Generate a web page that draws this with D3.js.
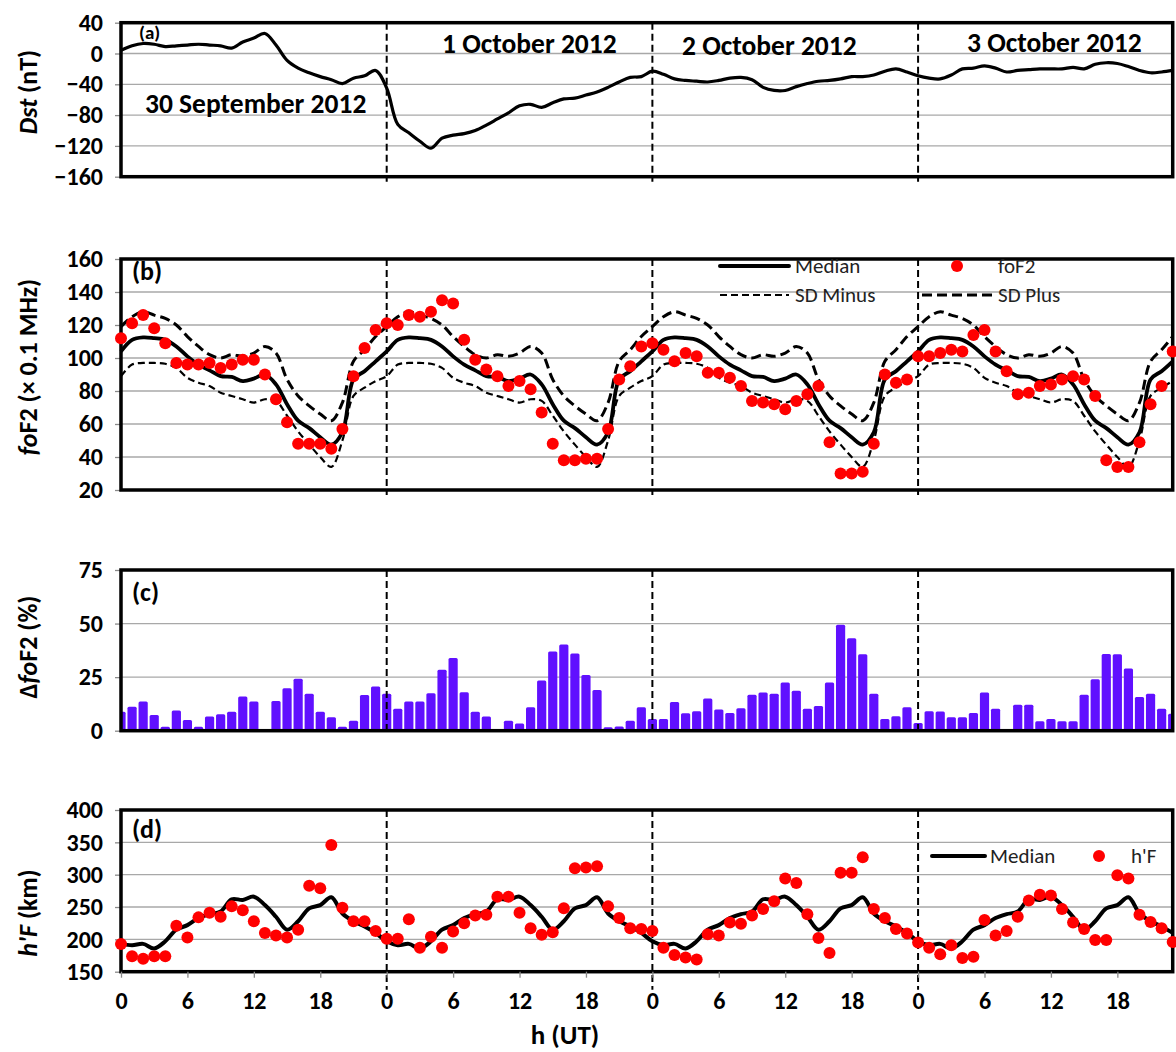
<!DOCTYPE html>
<html>
<head>
<meta charset="utf-8">
<script src="https://cdn.jsdelivr.net/npm/d3@7"></script>
<style>
  body { margin: 0; background: #fff; }
  svg text { font-family: Calibri, Carlito, Lato, sans-serif; }
</style>
</head>
<body>
<svg id="chart" width="1176" height="1052"></svg>
<script>
// ---- data (hourly, 30 Sep - 3 Oct 2012) ----
const dayLabels = ["30 September 2012", "1 October 2012", "2 October 2012", "3 October 2012"];
const hourTicks = [0, 6, 12, 18, 24, 30, 36, 42, 48, 54, 60, 66, 72, 78, 84, 90];
const dayBreaks = [24, 48, 72];

const dst = [
  4, 10, 13, 12, 9, 10, 11, 12, 11, 10, 7, 15, 20, 26, 11, -9, -19, -25, -30, -34, -39, -32, -29, -22,
  -45, -92, -103, -114, -123, -110, -106, -104, -100, -93, -85, -77, -68, -66, -70, -64, -59, -58, -54, -50, -44, -37, -31, -30,
  -23, -27, -33, -35, -36, -37, -35, -32, -31, -34, -44, -48, -48, -43, -39, -36, -35, -33, -30, -30, -28, -23, -20, -24,
  -29, -32, -33, -28, -20, -19, -16, -19, -24, -22, -21, -20, -20, -20, -18, -20, -14, -12, -13, -17, -22, -25, -24, -22
];

const foF2Median = [
  104, 111, 112.5, 112, 111, 107, 101, 96, 92.5, 89, 88.5, 86, 87.5, 90, 84, 72, 62, 57.5, 52, 47.5, 55, 87, 92, 98,
  104, 111, 112.5, 112, 111, 107, 101, 96, 92.5, 89, 88.5, 86, 87.5, 90, 84, 72, 62, 57.5, 52, 47.5, 55, 87, 92, 98,
  104, 111, 112.5, 112, 111, 107, 101, 96, 92.5, 89, 88.5, 86, 87.5, 90, 84, 72, 62, 57.5, 52, 47.5, 55, 87, 92, 98,
  104, 111, 112.5, 112, 111, 107, 101, 96, 92.5, 89, 88.5, 86, 87.5, 90, 84, 72, 62, 57.5, 52, 47.5, 55, 87, 92, 98
];
const foF2SDPlus = [
  119, 125, 128, 126, 124, 120, 113, 107, 102, 100, 102, 101, 103, 107, 103, 87, 77, 71, 66, 62, 73, 98, 105, 113,
  119, 125, 128, 126, 124, 120, 113, 107, 102, 100, 102, 101, 103, 107, 103, 87, 77, 71, 66, 62, 73, 98, 105, 113,
  119, 125, 128, 126, 124, 120, 113, 107, 102, 100, 102, 101, 103, 107, 103, 87, 77, 71, 66, 62, 73, 98, 105, 113,
  119, 125, 128, 126, 124, 120, 113, 107, 102, 100, 102, 101, 103, 107, 103, 87, 77, 71, 66, 62, 73, 98, 105, 113
];
const foF2SDMinus = [
  89, 96, 97, 97, 96.5, 94, 88, 85, 83, 79, 77, 75, 73, 75, 74, 65, 55.5, 47.5, 40, 34, 50, 77, 82, 86,
  89, 96, 97, 97, 96.5, 94, 88, 85, 83, 79, 77, 75, 73, 75, 74, 65, 55.5, 47.5, 40, 34, 50, 77, 82, 86,
  89, 96, 97, 97, 96.5, 94, 88, 85, 83, 79, 77, 75, 73, 75, 74, 65, 55.5, 47.5, 40, 34, 50, 77, 82, 86,
  89, 96, 97, 97, 96.5, 94, 88, 85, 83, 79, 77, 75, 73, 75, 74, 65, 55.5, 47.5, 40, 34, 50, 77, 82, 86
];
const foF2Obs = [
  112, 121, 126, 118, 109, 97, 96, 96, 97, 94, 96, 99, 99, 90, 75, 61, 48, 48, 48, 45, 57, 89, 106, 117,
  121, 120, 126, 125, 128, 135, 133, 111, 99, 93, 89, 83, 86, 81, 67, 48, 38, 38, 39, 39, 57, 87, 95, 107,
  109, 105, 98, 103, 101, 91, 91, 88, 83, 74, 73, 72, 69, 74, 78, 83, 49, 30, 30, 31, 48, 90, 85, 87,
  101, 101, 103, 105, 104, 114, 117, 104, 92, 78, 79, 83, 84, 87, 89, 87, 77, 38, 34, 34, 49, 72, 83, 104
];

const dFoF2 = [
  8.9, 11.2, 13.6, 7.3, 1.9, 9.4, 5, 1.9, 6.6, 7.7, 8.9, 16, 13.6, 0, 13.9, 19.8, 24.2, 17.2, 8.9, 6.3, 1.9, 4.7, 16.7, 20.6,
  17.2, 10.2, 13.6, 13.6, 17.5, 28.4, 33.9, 18, 8.9, 6.6, 0, 4.7, 3.4, 10.9, 23.4, 37, 40.2, 36, 26, 19, 1.6, 2, 4.7, 11,
  5.5, 5.5, 13.4, 8.2, 9.1, 15, 9.9, 8.3, 10.5, 16.8, 17.8, 17.3, 22.5, 18.6, 10.2, 11.5, 22.5, 49.5, 43.2, 35.7, 17.3, 5.5, 6.8, 11,
  3.6, 9.1, 9, 6.3, 6.3, 8.3, 17.8, 10.2, 0, 12.1, 12.1, 4.4, 5.5, 4.4, 4.4, 16.8, 24, 35.8, 35.7, 29, 15.7, 17.3, 10.2, 7.9
];

const hpFMedian = [
  193, 191, 193, 186, 197, 215, 222, 233, 239, 243, 262, 261, 266, 253, 235, 215, 228, 248, 253, 265, 240, 228, 220, 210,
  197, 191, 193, 186, 197, 215, 222, 233, 239, 243, 262, 261, 266, 253, 235, 215, 228, 248, 253, 265, 240, 228, 220, 210,
  197, 191, 193, 186, 197, 215, 222, 233, 239, 243, 262, 261, 266, 253, 235, 215, 228, 248, 253, 265, 240, 228, 220, 210,
  197, 191, 193, 186, 197, 215, 222, 233, 239, 243, 262, 261, 266, 253, 235, 215, 228, 248, 253, 265, 240, 228, 220, 210
];
const hpFObs = [
  193, 174, 170, 174, 174, 221, 203, 234, 241, 235, 251, 245, 228, 210, 206, 203, 215, 283, 279, 346, 249, 228, 228, 213,
  201, 201, 231, 187, 204, 187, 212, 225, 237, 238, 266, 266, 241, 217, 207, 211, 248, 310, 311, 313, 251, 233, 217, 216,
  213, 187, 176, 172, 169, 208, 206, 226, 224, 237, 247, 259, 294, 287, 239, 202, 179, 303, 303, 327, 247, 233, 216, 209,
  195, 187, 177, 191, 171, 173, 230, 206, 213, 235, 260, 269, 268, 247, 226, 216, 199, 199, 299, 294, 238, 227, 217, 196
];

const ticksA = [40, 0, -40, -80, -120, -160];
const ticksB = [160, 140, 120, 100, 80, 60, 40, 20];
const ticksC = [75, 50, 25, 0];
const ticksD = [400, 350, 300, 250, 200, 150];

// ---- layout ----
const svg = d3.select("#chart");
const x = d3.scaleLinear().domain([0, 95]).range([121, 1172.7]);
const red = "#ff0000";
const barColor = "#6010ff";
const tickFont = 24;

function panel(domain, range, ticks) {
  const y = d3.scaleLinear().domain(domain).range(range);
  const g = svg.append("g");
  const inner = ticks.filter(t => t !== domain[0] && t !== domain[1]);
  g.selectAll("line.grid").data(inner).join("line")
    .attr("x1", x(0)).attr("x2", x(95))
    .attr("y1", d => y(d)).attr("y2", d => y(d))
    .attr("stroke", "#a8a8a8").attr("stroke-width", 1.3);

  const ax = g.append("g")
    .attr("transform", `translate(${x(0)},0)`)
    .call(d3.axisLeft(y).tickValues(ticks).tickSize(6).tickPadding(12));
  ax.select(".domain").remove();
  ax.selectAll(".tick line").attr("stroke", "#8a8a8a").attr("stroke-width", 1.3);
  ax.selectAll(".tick text").attr("font-size", tickFont).attr("font-weight", "bold").attr("fill", "#000");
  return { y, g, top: range[1], bottom: range[0] };
}

function frame(p) {
  p.g.append("rect")
    .attr("x", x(0)).attr("y", p.top)
    .attr("width", x(95) - x(0)).attr("height", p.bottom - p.top)
    .attr("fill", "none").attr("stroke", "#000").attr("stroke-width", 3.5);
}

function dayLines(p, ext) {
  p.g.selectAll("line.day").data(dayBreaks).join("line")
    .attr("x1", d => x(d)).attr("x2", d => x(d))
    .attr("y1", p.top).attr("y2", p.bottom + ext)
    .attr("stroke", "#000").attr("stroke-width", 2)
    .attr("stroke-dasharray", "7,4");
}

function yTitle(cy, parts) {
  const t = svg.append("text")
    .attr("transform", `translate(37,${cy}) rotate(-90)`)
    .attr("text-anchor", "middle")
    .attr("font-size", 26).attr("font-weight", "bold");
  parts.forEach(([s, it]) => t.append("tspan").text(s).attr("font-style", it ? "italic" : "normal"));
}

function label(txt, px, py, size) {
  svg.append("text").attr("x", px).attr("y", py).attr("dy", "0.35em")
    .attr("font-size", size).attr("font-weight", "bold").text(txt);
}

const curve = d3.curveCatmullRom.alpha(0.5);
function lineOf(p, vals) {
  return d3.line().curve(curve).x((d, i) => x(i)).y(d => p.y(d))(vals);
}

// ---- (a) Dst ----
const pa = panel([-160, 40], [176.7, 22.7], ticksA);
frame(pa);
pa.g.append("path").attr("d", lineOf(pa, dst))
  .attr("fill", "none").attr("stroke", "#000").attr("stroke-width", 3.2);
dayLines(pa, 5);
label("(a)", 139, 32, 19);
const dayPos = [[145, 103], [442, 43], [682, 45], [967, 42]];
dayLabels.forEach((s, i) => label(s, dayPos[i][0], dayPos[i][1], 27.5));
yTitle(92, [["Dst", true], [" (nT)", false]]);

// ---- (b) foF2 ----
const pb = panel([20, 160], [490, 259], ticksB);
frame(pb);
dayLines(pb, 5);
pb.g.append("path").attr("d", lineOf(pb, foF2SDMinus))
  .attr("fill", "none").attr("stroke", "#000").attr("stroke-width", 2.2).attr("stroke-dasharray", "7,4");
pb.g.append("path").attr("d", lineOf(pb, foF2SDPlus))
  .attr("fill", "none").attr("stroke", "#000").attr("stroke-width", 3).attr("stroke-dasharray", "10,5");
pb.g.append("path").attr("d", lineOf(pb, foF2Median))
  .attr("fill", "none").attr("stroke", "#000").attr("stroke-width", 3.8);
pb.g.selectAll("circle").data(foF2Obs).join("circle")
  .attr("cx", (d, i) => x(i)).attr("cy", d => pb.y(d)).attr("r", 6).attr("fill", red);
label("(b)", 132, 271, 26);
yTitle(367, [["fo", true], ["F2 (\u00d7 0.1 MHz)", false]]);

// legend (b)
const lgB = pb.g.append("g").attr("font-size", 21).attr("fill", "#222");
lgB.append("line").attr("x1", 720).attr("x2", 789).attr("y1", 266).attr("y2", 266)
  .attr("stroke", "#000").attr("stroke-width", 4).attr("stroke-linecap", "round");
lgB.append("text").attr("x", 795).attr("y", 266).attr("dy", "0.35em").text("Median");
lgB.append("circle").attr("cx", 957).attr("cy", 266).attr("r", 6).attr("fill", red);
lgB.append("text").attr("x", 998).attr("y", 266).attr("dy", "0.35em").text("foF2");
lgB.append("line").attr("x1", 720).attr("x2", 789).attr("y1", 295).attr("y2", 295)
  .attr("stroke", "#000").attr("stroke-width", 2.2).attr("stroke-dasharray", "7,4");
lgB.append("text").attr("x", 795).attr("y", 295).attr("dy", "0.35em").text("SD Minus");
lgB.append("line").attr("x1", 922).attr("x2", 992).attr("y1", 295).attr("y2", 295)
  .attr("stroke", "#000").attr("stroke-width", 3).attr("stroke-dasharray", "10,5");
lgB.append("text").attr("x", 998).attr("y", 295).attr("dy", "0.35em").text("SD Plus");

// ---- (c) delta foF2 ----
const pc = panel([0, 75], [730.7, 570], ticksC);
svg.append("clipPath").attr("id", "clipC").append("rect")
  .attr("x", x(0)).attr("y", pc.top).attr("width", x(95) - x(0)).attr("height", pc.bottom - pc.top);
const bw = 9.2;
pc.g.append("g").attr("clip-path", "url(#clipC)")
  .selectAll("rect").data(dFoF2).join("rect")
  .attr("x", (d, i) => x(i) - bw / 2).attr("width", bw)
  .attr("y", d => pc.y(d)).attr("height", d => pc.y(0) - pc.y(d))
  .attr("rx", 1.5).attr("fill", barColor);
frame(pc);
dayLines(pc, 4);
label("(c)", 132, 592, 26);
yTitle(647, [["\u0394", false], ["fo", true], ["F2 (%)", false]]);

// ---- (d) h'F ----
const pd = panel([150, 400], [971.7, 810], ticksD);
frame(pd);
dayLines(pd, 18);
pd.g.append("path").attr("d", lineOf(pd, hpFMedian))
  .attr("fill", "none").attr("stroke", "#000").attr("stroke-width", 4);
pd.g.selectAll("circle").data(hpFObs).join("circle")
  .attr("cx", (d, i) => x(i)).attr("cy", d => pd.y(d)).attr("r", 6).attr("fill", red);
label("(d)", 132, 829, 26);
yTitle(913, [["h'F", true], [" (km)", false]]);

const lgD = pd.g.append("g").attr("font-size", 21).attr("fill", "#222");
lgD.append("line").attr("x1", 932).attr("x2", 985).attr("y1", 856).attr("y2", 856)
  .attr("stroke", "#000").attr("stroke-width", 4).attr("stroke-linecap", "round");
lgD.append("text").attr("x", 990).attr("y", 856).attr("dy", "0.35em").text("Median");
lgD.append("circle").attr("cx", 1099).attr("cy", 856).attr("r", 6).attr("fill", red);
lgD.append("text").attr("x", 1131).attr("y", 856).attr("dy", "0.35em").text("h'F");

// x axis
const xa = svg.append("g")
  .attr("transform", `translate(0,${pd.bottom})`)
  .call(d3.axisBottom(x).tickValues(hourTicks).tickSize(6).tickPadding(14).tickFormat(d => d % 24));
xa.select(".domain").remove();
xa.selectAll(".tick line").attr("stroke", "#8a8a8a").attr("stroke-width", 1.3);
xa.selectAll(".tick text").attr("font-size", tickFont).attr("font-weight", "bold").attr("fill", "#000");

svg.append("text").attr("x", 565).attr("y", 1035).attr("dy", "0.35em")
  .attr("text-anchor", "middle").attr("font-size", 27).attr("font-weight", "bold").text("h (UT)");
</script>
</body>
</html>
